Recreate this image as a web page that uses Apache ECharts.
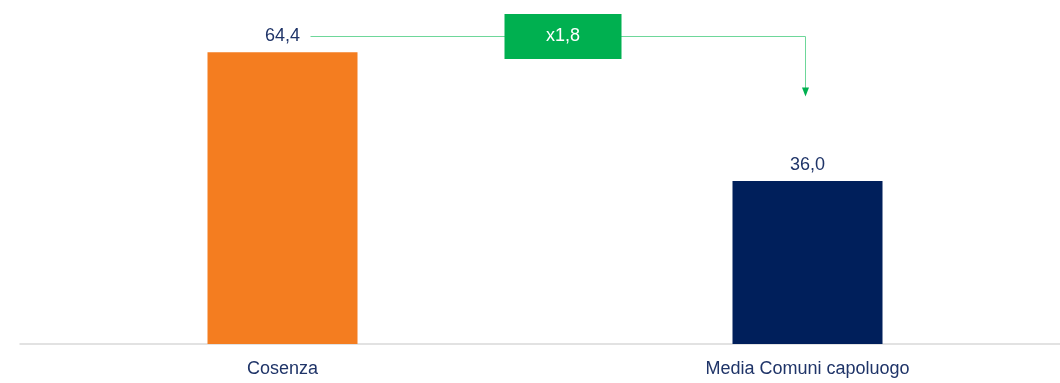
<!DOCTYPE html>
<html>
<head>
<meta charset="utf-8">
<script src="https://cdn.jsdelivr.net/npm/echarts@6/dist/echarts.min.js"></script>
<style>
html,body{margin:0;padding:0;background:#fff;}
#c{width:1060px;height:383px;}
</style>
</head>
<body>
<div id="c"></div>
<script>
const categories = ['Cosenza', 'Media Comuni capoluogo'];
const values = [64.4, 36.0];
const ratioLabel = 'x1,8';

const barColors = ['#F47D20', '#001F5B'];
const textColor = '#1F3468';
const fontFamily = '"Liberation Sans", Arial, sans-serif';

const chart = echarts.init(document.getElementById('c'), null, {renderer: 'canvas'});
chart.setOption({
  animation: false,
  backgroundColor: '#ffffff',
  grid: {left: 20, width: 1050, top: 27, bottom: 39, containLabel: false, outerBoundsMode: 'none'},
  xAxis: {
    type: 'category',
    data: categories,
    axisLine: {show: true, lineStyle: {color: '#D9D9D9', width: 1.5}},
    axisTick: {show: false},
    axisLabel: {color: textColor, fontSize: 18, fontFamily: fontFamily, margin: 16}
  },
  yAxis: {
    type: 'value', min: 0, max: 70,
    show: false,
    splitLine: {show: false}
  },
  series: [{
    type: 'bar',
    barWidth: 150,
    data: values.map((v, i) => ({value: v, itemStyle: {color: barColors[i]}})),
    label: {
      show: true, position: 'top', distance: 7,
      color: textColor, fontSize: 18, fontFamily: fontFamily,
      formatter: p => p.value.toFixed(1).replace('.', ',')
    }
  }]
});

const p0 = chart.convertToPixel({seriesIndex: 0}, [0, values[0]]);
const p1 = chart.convertToPixel({seriesIndex: 0}, [1, values[1]]);
const ly = Math.round(p0[1] - 16) + 0.5;
const x0 = p0[0] + 28;
const x1 = Math.round(p1[0] - 3) + 0.5;
const bx = (p0[0] + p1[0]) / 2 + 18;
const lineColor = '#6ED79A';
const green = '#00B050';

chart.setOption({
  graphic: [
    {type: 'polyline', z: 10, shape: {points: [[x0, ly], [x1, ly], [x1, ly + 52]]},
     style: {stroke: lineColor, lineWidth: 1, fill: null}},
    {type: 'polygon', z: 10, shape: {points: [[x1 - 3.5, ly + 51], [x1 + 3.5, ly + 51], [x1, ly + 60]]},
     style: {fill: green}},
    {type: 'rect', z: 11, shape: {x: bx - 58.5, y: ly - 22.5, width: 117, height: 45},
     style: {fill: green}},
    {type: 'text', z: 12, x: bx, y: ly,
     style: {text: ratioLabel, fill: '#ffffff', fontSize: 18, fontFamily: fontFamily,
             align: 'center', verticalAlign: 'middle'}}
  ]
});
</script>
</body>
</html>
